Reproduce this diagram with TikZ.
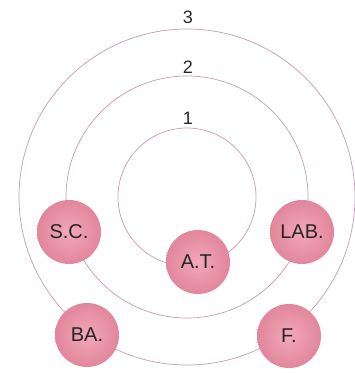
\documentclass[tikz,border=0pt]{standalone}
\usepackage{fontspec}
\setmainfont{Liberation Sans}
\definecolor{ringc}{HTML}{C49AB8}
\definecolor{ballin}{HTML}{F2A8B8}
\definecolor{ballout}{HTML}{E2869C}
\begin{document}
\begin{tikzpicture}[x=1pt,y=1pt,
  ring/.style={draw=ringc, line width=0.7pt},
  ball/.style={circle, minimum size=64pt, inner sep=0pt, inner color=ballin, outer color=ballout, font=\fontsize{20}{22}\selectfont, text=black!85},
  numlab/.style={font=\fontsize{18}{20}\selectfont, text=black!85}]
\useasboundingbox (0,0) rectangle (355,-374);
\coordinate (c) at (187,-197);
\draw[ring] (c) circle[radius=168];
\draw[ring] (c) circle[radius=121];
\draw[ring] (c) circle[radius=69];
\node[numlab] (n3) at (188,-17) {3};
\node[numlab] (n2) at (188,-67) {2};
\node[numlab] (n1) at (188,-118) {1};
\node[ball] (sc) at (69,-232) {S.C.};
\node[ball] (at) at (198,-262) {A.T.};
\node[ball] (lab) at (302,-232) {LAB.};
\node[ball] (ba) at (87,-335) {BA.};
\node[ball] (f) at (289,-336) {F.};
\end{tikzpicture}
\end{document}
